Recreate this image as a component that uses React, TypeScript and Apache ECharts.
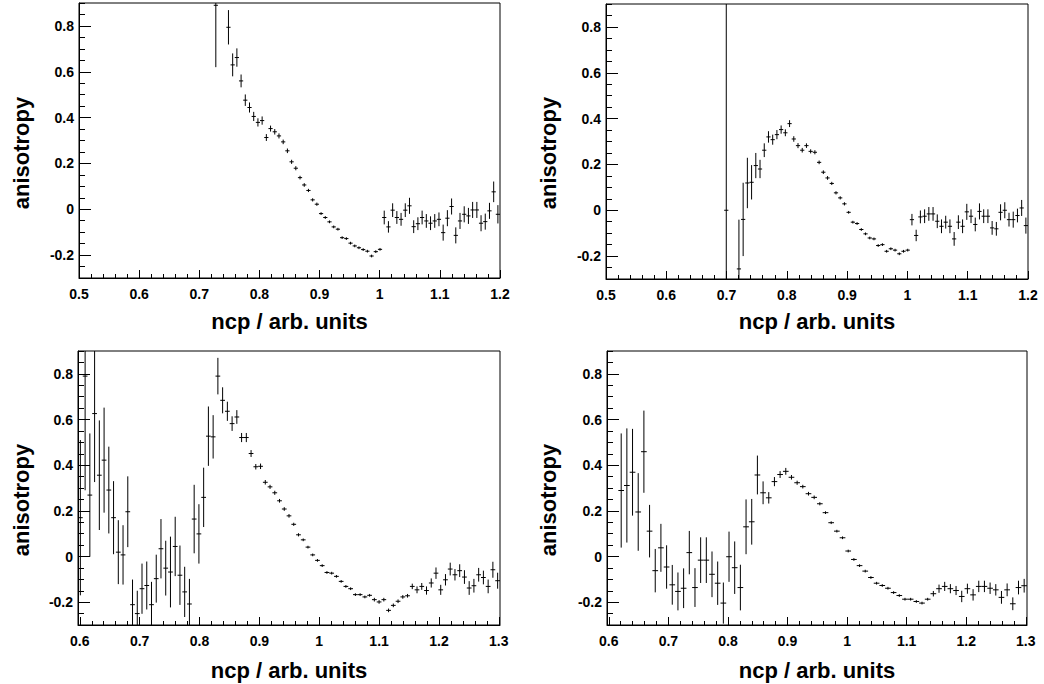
import React, { useEffect, useRef } from "react";
import * as echarts from "echarts";

// ---------- axis ranges and ticks ----------
const TOP_X_RANGE = [0.5, 1.2];
const BOTTOM_X_RANGE = [0.597, 1.302];
const Y_RANGE = [-0.3, 0.9];

const TOP_X_MAJOR = [0.5, 0.6, 0.7, 0.8, 0.9, 1.0, 1.1, 1.2];
const BOTTOM_X_MAJOR = [0.6, 0.7, 0.8, 0.9, 1.0, 1.1, 1.2, 1.3];
const Y_MAJOR = [-0.2, 0, 0.2, 0.4, 0.6, 0.8];
const X_MINOR_STEP = 0.02;
const Y_MINOR_STEP = 0.05;

// ---------- histogram binning ----------
const TOP_BINS = 100;
const BOTTOM_LEFT_BINS = 89;
const BOTTOM_RIGHT_BINS = 74;

const X_TITLE = "ncp / arb. units";
const Y_TITLE = "anisotropy";

// ---------- top-left panel (first shown bin: 32) ----------
const TL_FIRST_BIN = 32;
const topLeftValues = [
  0.89, null, null, 0.794, 0.63, 0.662, 0.56, 0.476, 0.444, 0.405,
  0.379, 0.387, 0.313, 0.352, 0.338, 0.32, 0.294, 0.255, 0.207, 0.179,
  0.138, 0.106, 0.082, 0.041, 0.022, -0.019, -0.036, -0.055, -0.077, -0.087,
  -0.124, -0.128, -0.148, -0.16, -0.168, -0.176, -0.183, -0.204, -0.185, -0.175,
  -0.036, -0.077, -0.004, -0.036, -0.044, -0.004, 0.015, -0.076, -0.063, -0.036,
  -0.051, -0.061, -0.051, -0.044, -0.102, -0.039, 0.012, -0.114, -0.051, -0.022,
  -0.029, -0.003, -0.003, -0.061, -0.054, -0.007, 0.076, -0.022,
];
const topLeftErrors = [
  0.27, null, null, 0.075, 0.05, 0.04, 0.028, 0.025, 0.022, 0.02,
  0.018, 0.018, 0.015, 0.013, 0.012, 0.011, 0.01, 0.01, 0.009, 0.009,
  0.008, 0.008, 0.007, 0.007, 0.007, 0.006, 0.006, 0.006, 0.006, 0.006,
  0.006, 0.006, 0.006, 0.006, 0.006, 0.006, 0.006, 0.006, 0.006, 0.006,
  0.03, 0.025, 0.03, 0.028, 0.028, 0.03, 0.035, 0.028, 0.028, 0.03,
  0.03, 0.03, 0.03, 0.03, 0.035, 0.035, 0.035, 0.035, 0.035, 0.035,
  0.035, 0.035, 0.035, 0.035, 0.035, 0.035, 0.045, 0.04,
];

// ---------- top-right panel (first shown bin: 28) ----------
const TR_FIRST_BIN = 28;
const topRightValues = [
  0, null, null, -0.256, -0.04, 0.119, 0.122, 0.195, 0.18, 0.262,
  0.32, 0.308, 0.33, 0.352, 0.338, 0.378, 0.311, 0.282, 0.262, 0.282,
  0.257, 0.253, 0.209, 0.166, 0.141, 0.117, 0.076, 0.054, 0.028, -0.009,
  -0.052, -0.058, -0.084, -0.103, -0.121, -0.125, -0.154, -0.15, -0.179, -0.168,
  -0.174, -0.19, -0.179, -0.174,
  -0.041, -0.11, -0.029, -0.026, -0.016, -0.016, -0.048, -0.07, -0.052, -0.07,
  -0.125, -0.052, -0.07, -0.007, -0.026, -0.062, -0.005, -0.026, -0.026, -0.077,
  -0.081, -0.009, 0.0, -0.041, -0.041, -0.023, 0.01, -0.067,
];
const topRightErrors = [
  1.5, null, null, 0.215, 0.16, 0.11, 0.075, 0.055, 0.04, 0.03,
  0.025, 0.022, 0.02, 0.018, 0.015, 0.015, 0.012, 0.011, 0.01, 0.01,
  0.009, 0.009, 0.008, 0.008, 0.008, 0.007, 0.007, 0.007, 0.007, 0.006,
  0.006, 0.006, 0.006, 0.006, 0.006, 0.006, 0.006, 0.006, 0.006, 0.006,
  0.006, 0.006, 0.006, 0.006,
  0.025, 0.025, 0.028, 0.03, 0.03, 0.03, 0.03, 0.03, 0.028, 0.03,
  0.03, 0.03, 0.03, 0.035, 0.03, 0.03, 0.035, 0.03, 0.03, 0.03,
  0.03, 0.035, 0.035, 0.03, 0.035, 0.03, 0.035, 0.035,
];

// ---------- bottom-left panel (first shown bin: 0) ----------
const BL_FIRST_BIN = 0;
const bottomLeftValues = [
  0.17, 0.79, 0.269, 0.626, 0.356, 0.422, 0.291, 0.17, 0.019, 0.007,
  0.196, -0.211, -0.25, -0.141, -0.127, -0.211, -0.097, 0.034, -0.051, -0.068,
  0.044, -0.082, -0.155, -0.208, 0.164, 0.099, 0.259, 0.527, 0.524, 0.79,
  0.684, 0.636, 0.582, 0.611, 0.521, 0.521, 0.451, 0.393, 0.395, 0.325,
  0.305, 0.279, 0.244, 0.208, 0.178, 0.141, 0.095, 0.073, 0.041, 0.007,
  -0.017, -0.04, -0.07, -0.073, -0.087, -0.109, -0.131, -0.141, -0.167, -0.167,
  -0.177, -0.17, -0.189, -0.199, -0.189, -0.236, -0.214, -0.196, -0.177, -0.172,
  -0.131, -0.146, -0.131, -0.149, -0.116, -0.073, -0.146, -0.102, -0.055, -0.08,
  -0.062, -0.09, -0.138, -0.128, -0.08, -0.092, -0.131, -0.058, -0.106,
];
const bottomLeftErrors = [
  0.34, 0.5, 0.27, 0.3, 0.24, 0.23, 0.19, 0.16, 0.14, 0.13,
  0.155, 0.11, 0.1, 0.11, 0.105, 0.1, 0.105, 0.13, 0.12, 0.155,
  0.13, 0.13, 0.11, 0.11, 0.15, 0.13, 0.13, 0.13, 0.095, 0.08,
  0.057, 0.042, 0.032, 0.03, 0.02, 0.02, 0.015, 0.012, 0.012, 0.01,
  0.009, 0.009, 0.008, 0.008, 0.008, 0.007, 0.007, 0.006, 0.006, 0.006,
  0.006, 0.006, 0.006, 0.006, 0.006, 0.006, 0.006, 0.006, 0.006, 0.006,
  0.006, 0.006, 0.008, 0.008, 0.008, 0.008, 0.008, 0.008, 0.008, 0.008,
  0.012, 0.015, 0.015, 0.018, 0.02, 0.025, 0.022, 0.025, 0.028, 0.025,
  0.028, 0.03, 0.03, 0.03, 0.03, 0.03, 0.03, 0.035, 0.035,
];

// ---------- bottom-right panel (first shown bin: 2) ----------
const BR_FIRST_BIN = 2;
const bottomRightValues = [
  0.289, 0.311, 0.369, 0.195, 0.459, 0.111, -0.062, 0.038, -0.046, -0.124,
  -0.153, -0.139, 0.017, -0.136, -0.016, -0.016, -0.078, -0.117, -0.204, -0.001,
  -0.049, -0.136, 0.13, 0.152, 0.357, 0.279, 0.257, 0.328, 0.359, 0.373,
  0.347, 0.323, 0.306, 0.275, 0.259, 0.231, 0.192, 0.148, 0.111, 0.082,
  0.024, -0.013, -0.04, -0.064, -0.092, -0.117, -0.127, -0.139, -0.158, -0.171,
  -0.187, -0.187, -0.197, -0.204, -0.187, -0.163, -0.141, -0.131, -0.141, -0.149,
  -0.175, -0.141, -0.168, -0.131, -0.131, -0.139, -0.146, -0.179, -0.146, -0.207,
  -0.136, -0.128,
];
const bottomRightErrors = [
  0.25, 0.25, 0.19, 0.17, 0.18, 0.115, 0.095, 0.105, 0.095, 0.087,
  0.083, 0.087, 0.095, 0.085, 0.1, 0.1, 0.1, 0.095, 0.09, 0.11,
  0.115, 0.1, 0.12, 0.1, 0.085, 0.05, 0.025, 0.02, 0.015, 0.015,
  0.01, 0.009, 0.008, 0.008, 0.008, 0.007, 0.006, 0.006, 0.006, 0.006,
  0.006, 0.006, 0.006, 0.006, 0.006, 0.006, 0.006, 0.006, 0.006, 0.006,
  0.006, 0.006, 0.006, 0.006, 0.006, 0.012, 0.018, 0.02, 0.02, 0.02,
  0.025, 0.022, 0.025, 0.025, 0.025, 0.025, 0.025, 0.028, 0.028, 0.028,
  0.03, 0.03,
];

const FONT = "'Liberation Sans', Arial, Helvetica, sans-serif";

function histData(
  lo: number,
  hi: number,
  nBins: number,
  firstBin: number,
  values: (number | null)[],
  errors: (number | null)[]
) {
  const width = (hi - lo) / nBins;
  const out: number[][] = [];
  values.forEach((v, i) => {
    if (v === null) return;
    const center = lo + (firstBin + i + 0.5) * width;
    out.push([center, v, errors[i] as number, width / 2]);
  });
  return out;
}

function minorTicks(lo: number, hi: number, step: number) {
  const out: number[] = [];
  const start = Math.ceil(lo / step - 1e-9);
  const end = Math.floor(hi / step + 1e-9);
  for (let k = start; k <= end; k++) out.push(Number((k * step).toFixed(4)));
  return out;
}

export default function App() {
  const ref = useRef<HTMLDivElement>(null);

  useEffect(() => {
    if (!ref.current) return;
    const chart = echarts.init(ref.current, null, { renderer: "svg" });

    const panels = [
      {
        grid: { left: 79, top: 3, width: 421, height: 275 },
        xRange: TOP_X_RANGE,
        xMajor: TOP_X_MAJOR,
        data: histData(TOP_X_RANGE[0], TOP_X_RANGE[1], TOP_BINS, TL_FIRST_BIN, topLeftValues, topLeftErrors),
        xTitle: [289.5, 321],
        yTitle: [21, 153],
      },
      {
        grid: { left: 606, top: 4, width: 422, height: 275 },
        xRange: TOP_X_RANGE,
        xMajor: TOP_X_MAJOR,
        data: histData(TOP_X_RANGE[0], TOP_X_RANGE[1], TOP_BINS, TR_FIRST_BIN, topRightValues, topRightErrors),
        xTitle: [817, 321],
        yTitle: [548, 153],
      },
      {
        grid: { left: 78, top: 351, width: 422, height: 274 },
        xRange: BOTTOM_X_RANGE,
        xMajor: BOTTOM_X_MAJOR,
        data: histData(BOTTOM_X_RANGE[0], BOTTOM_X_RANGE[1], BOTTOM_LEFT_BINS, BL_FIRST_BIN, bottomLeftValues, bottomLeftErrors),
        xTitle: [289, 670],
        yTitle: [21, 500],
      },
      {
        grid: { left: 607, top: 351, width: 420, height: 274 },
        xRange: BOTTOM_X_RANGE,
        xMajor: BOTTOM_X_MAJOR,
        data: histData(BOTTOM_X_RANGE[0], BOTTOM_X_RANGE[1], BOTTOM_RIGHT_BINS, BR_FIRST_BIN, bottomRightValues, bottomRightErrors),
        xTitle: [817, 670],
        yTitle: [548, 500],
      },
    ];

    const labelStyle = {
      color: "#000",
      fontFamily: FONT,
      fontWeight: "bold" as const,
    };
    const yMinor = minorTicks(Y_RANGE[0], Y_RANGE[1], Y_MINOR_STEP);

    const grids: any[] = [];
    const xAxes: any[] = [];
    const yAxes: any[] = [];
    const series: any[] = [];
    const graphics: any[] = [];

    panels.forEach((p, i) => {
      grids.push({
        ...p.grid,
        show: true,
        borderColor: "#000",
        borderWidth: 1,
        backgroundColor: "transparent",
        containLabel: false,
      });
      const xMinor = minorTicks(p.xRange[0], p.xRange[1], X_MINOR_STEP);
      // major x axis
      xAxes.push({
        type: "value",
        gridIndex: i,
        position: "bottom",
        min: p.xRange[0],
        max: p.xRange[1],
        axisLine: { show: true, onZero: false, lineStyle: { color: "#000", width: 1 } },
        axisTick: { show: true, inside: true, length: 8, customValues: p.xMajor, lineStyle: { color: "#000", width: 1 } },
        axisLabel: { show: true, customValues: p.xMajor, margin: 9, fontSize: 14, ...labelStyle },
        splitLine: { show: false },
      });
      // minor x axis
      xAxes.push({
        type: "value",
        gridIndex: i,
        position: "bottom",
        min: p.xRange[0],
        max: p.xRange[1],
        axisLine: { show: false, onZero: false },
        axisTick: { show: true, inside: true, length: 4, customValues: xMinor, lineStyle: { color: "#000", width: 1 } },
        axisLabel: { show: false },
        splitLine: { show: false },
      });
      yAxes.push({
        type: "value",
        gridIndex: i,
        position: "left",
        min: Y_RANGE[0],
        max: Y_RANGE[1],
        axisLine: { show: true, onZero: false, lineStyle: { color: "#000", width: 1 } },
        axisTick: { show: true, inside: true, length: 12, customValues: Y_MAJOR, lineStyle: { color: "#000", width: 1 } },
        axisLabel: { show: true, customValues: Y_MAJOR, margin: 5, fontSize: 14, ...labelStyle },
        splitLine: { show: false },
      });
      yAxes.push({
        type: "value",
        gridIndex: i,
        position: "left",
        min: Y_RANGE[0],
        max: Y_RANGE[1],
        axisLine: { show: false, onZero: false },
        axisTick: { show: true, inside: true, length: 6, customValues: yMinor, lineStyle: { color: "#000", width: 1 } },
        axisLabel: { show: false },
        splitLine: { show: false },
      });

      series.push({
        type: "custom",
        coordinateSystem: "cartesian2d",
        xAxisIndex: i * 2,
        yAxisIndex: i * 2,
        clip: true,
        data: p.data,
        renderItem: (params: any, api: any) => {
          const x = api.value(0);
          const y = api.value(1);
          const e = api.value(2);
          const hw = api.value(3);
          const c = api.coord([x, y]);
          const l = api.coord([x - hw, y]);
          const r = api.coord([x + hw, y]);
          const t = api.coord([x, y + e]);
          const b = api.coord([x, y - e]);
          const st = { stroke: "#000", lineWidth: 1 };
          return {
            type: "group",
            children: [
              { type: "line", shape: { x1: l[0], y1: c[1], x2: r[0], y2: c[1] }, style: st },
              { type: "line", shape: { x1: c[0], y1: t[1], x2: c[0], y2: b[1] }, style: st },
            ],
          };
        },
      });

      graphics.push({
        type: "text",
        x: p.xTitle[0],
        y: p.xTitle[1],
        style: {
          text: X_TITLE,
          fill: "#000",
          font: `bold 22px ${FONT}`,
          align: "center",
          verticalAlign: "middle",
        },
      });
      graphics.push({
        type: "text",
        x: p.yTitle[0],
        y: p.yTitle[1],
        rotation: Math.PI / 2,
        style: {
          text: Y_TITLE,
          fill: "#000",
          font: `bold 22px ${FONT}`,
          align: "center",
          verticalAlign: "middle",
        },
      });
    });

    chart.setOption({
      animation: false,
      backgroundColor: "#fff",
      grid: grids,
      xAxis: xAxes,
      yAxis: yAxes,
      series,
      graphic: graphics,
    });

    return () => chart.dispose();
  }, []);

  return (
    <div
      ref={ref}
      style={{ position: "fixed", left: 0, top: 0, width: 1044, height: 684 }}
    />
  );
}
